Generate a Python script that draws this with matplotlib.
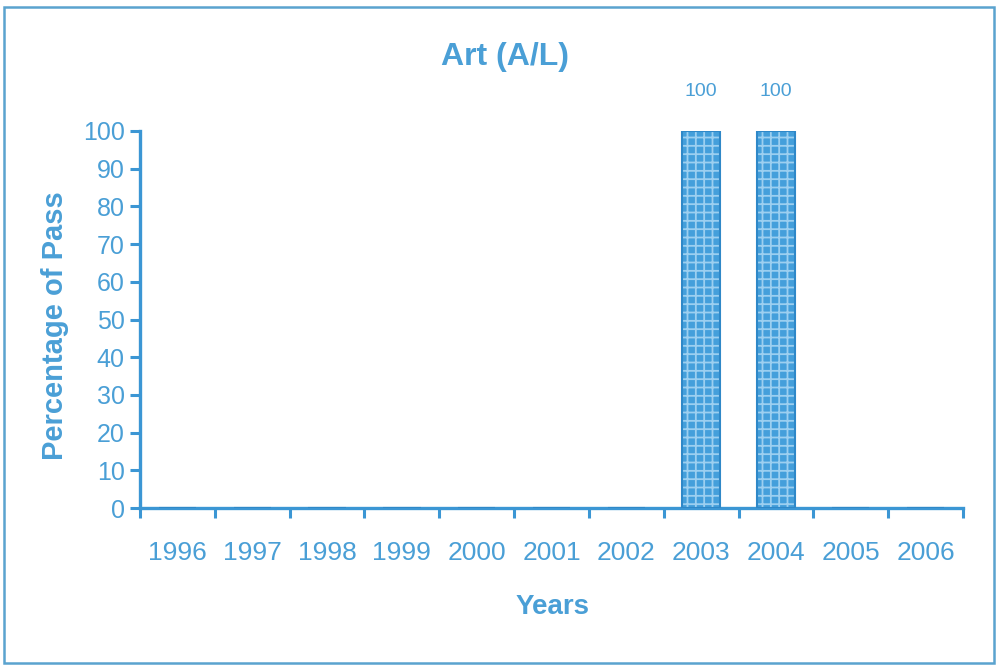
import matplotlib.pyplot as plt
from matplotlib.patches import Rectangle
import numpy as np

years = ['1996', '1997', '1998', '1999', '2000', '2001',
         '2002', '2003', '2004', '2005', '2006']
pass_pct = [0, 0, 0, 0, 0, 0, 0, 100, 100, 0, 0]
y_ticks = [0, 10, 20, 30, 40, 50, 60, 70, 80, 90, 100]

blue = '#3b96d4'
text_blue = '#4a9fd6'
fam = ['Liberation Sans', 'DejaVu Sans']

fig = plt.figure(figsize=(9.97, 6.65), dpi=100)
fig.patch.set_facecolor('white')
ax = fig.add_axes([140 / 997, 1 - 508 / 665, 823 / 997, 377 / 665])

x = np.arange(len(years))
heights = np.array(pass_pct)
# fill first, then a light texture on top, then the outline
ax.bar(x, heights, width=0.5, color='#449fdb', linewidth=0, zorder=2)
plt.rcParams['hatch.linewidth'] = 1.3
ax.bar(x, heights, width=0.5, facecolor='none', edgecolor='#9ccff0',
       hatch='++', linewidth=0, zorder=3)
ax.bar(x, heights, width=0.5, facecolor='none', edgecolor='#2f88c8',
       linewidth=1.5, zorder=4)

for xi, v in zip(x, pass_pct):
    if v > 0:
        ax.annotate(str(v), (xi, v), xytext=(0, 22), textcoords='offset points',
                    ha='center', va='bottom', fontsize=14, color=text_blue,
                    family=fam)

ax.set_xlim(-0.5, len(years) - 0.5)
ax.set_ylim(0, 100)

# major ticks on category boundaries, labels at centres
ax.set_xticks(np.arange(len(years) + 1) - 0.5)
ax.set_xticklabels([])
ax.set_xticks(x, minor=True)
ax.set_xticklabels(years, minor=True, fontsize=19, color=text_blue, family=fam)
ax.tick_params(axis='x', which='major', direction='out', length=7, width=2.2, color=blue)
ax.tick_params(axis='x', which='minor', length=0, pad=24)

ax.set_yticks(y_ticks)
ax.set_yticklabels([str(t) for t in y_ticks], fontsize=18, color=text_blue, family=fam)
ax.tick_params(axis='y', direction='out', length=7, width=2.2, color=blue, pad=4)

for s in ['top', 'right']:
    ax.spines[s].set_visible(False)
for s in ['left', 'bottom']:
    ax.spines[s].set_color(blue)
    ax.spines[s].set_linewidth(2.4)

fig.text(505 / 997, 1 - 57 / 665, 'Art (A/L)', ha='center', va='center',
         fontsize=23, fontweight='bold', color=text_blue, family=fam)
fig.text(553 / 997, 1 - 607 / 665, 'Years', ha='center', va='center',
         fontsize=20, fontweight='bold', color=text_blue, family=fam)
fig.text(55 / 997, 1 - 326 / 665, 'Percentage of Pass', ha='center', va='center',
         rotation=90, fontsize=21, fontweight='bold', color=text_blue, family=fam)

# outer frame
fig.patches.append(Rectangle((4 / 997, 2 / 665), 990 / 997, 656 / 665,
                             transform=fig.transFigure, fill=False,
                             edgecolor='#5aa3cf', linewidth=1.8))

plt.savefig('out.png', dpi=100)
